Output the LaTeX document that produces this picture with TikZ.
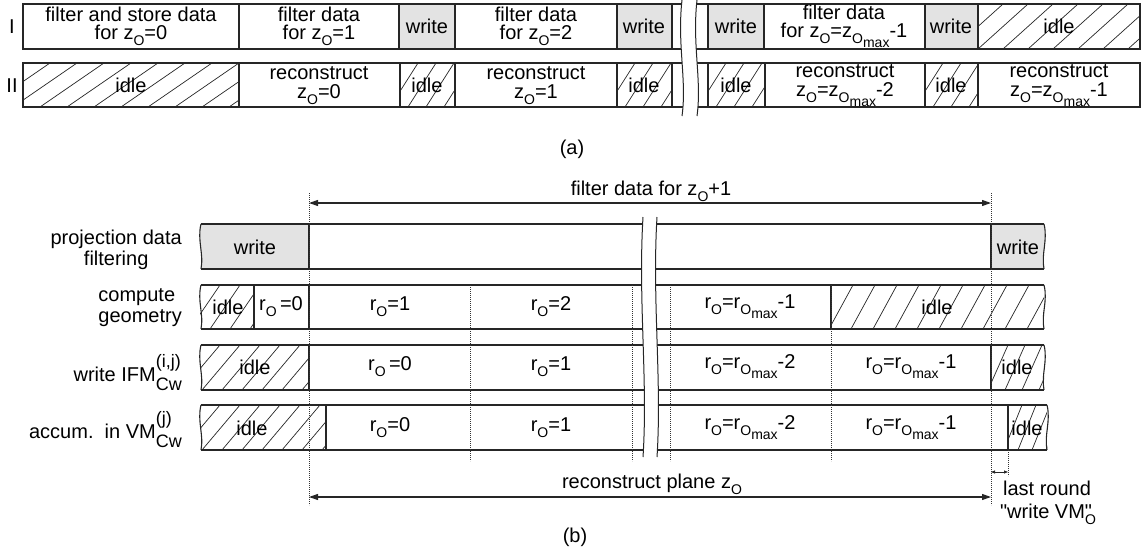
\documentclass[tikz,border=0pt]{standalone}
\usepackage{fontspec}
\setmainfont{Liberation Sans}
\newfontfamily\rawfont{Liberation Sans}[Ligatures=ResetAll]
\usetikzlibrary{arrows.meta}

% subscript O, and O with "max" below it
\newcommand\sO{\raisebox{-6pt}{\fontsize{14}{14}\selectfont O}}
\newcommand\sOmax{\raisebox{-6pt}{\fontsize{14}{14}\selectfont O\raisebox{-4pt}{max}}}
% straight double quote
\newcommand\dq{{\rawfont"}}
% stacked super- and subscript
\newlength\scrw
\newcommand\supsub[2]{%
  \setbox0=\hbox{\fontsize{18}{18}\selectfont #1}%
  \setbox2=\hbox{\fontsize{18}{18}\selectfont #2}%
  \scrw=\wd0 \ifdim\wd2>\scrw \scrw=\wd2 \fi
  \makebox[\scrw][l]{\rlap{\raisebox{14pt}{\box0}}\raisebox{-9pt}{\box2}}}
% hatched cell: x1, ytop, x2, ybottom, spacing, horizontal run of one stroke
\newcommand\hatchcell[6]{%
  \begin{scope}
    \clip (#1,#2) rectangle (#3,#4);
    \foreach \i in {0,...,30}
      \draw[hatchln] ({#1-#6+\i*#5},#4) -- ++(#6,{#2-#4});
  \end{scope}}

\begin{document}
\begin{tikzpicture}[x=1pt,y=-1pt,
  txt/.style={font=\fontsize{20}{18.5}\selectfont, inner sep=0pt, align=center},
  txtb/.style={font=\fontsize{20}{21}\selectfont, inner sep=0pt, align=center},
  box/.style={draw=black!85, line width=1.1pt},
  shade/.style={fill=black!11},
  hatchln/.style={draw=black!85, line width=0.7pt},
  dotl/.style={draw=black!80, line width=0.8pt, dash pattern=on 0.8pt off 1.2pt},
  dim/.style={draw=black!85, line width=1.1pt,
    {Triangle[length=9pt,width=6pt]}-{Triangle[length=9pt,width=6pt]}},
  dimsmall/.style={draw=black!85, line width=0.8pt,
    {Triangle[length=4pt,width=3pt]}-{Triangle[length=4pt,width=3pt]}},
  brk/.style={draw=black!85, line width=1pt},
]
\useasboundingbox (0,0) rectangle (1144,557);

% ================= (a) =================
% row I
\foreach \xa/\xb in {399/455,617/672,708/764,925/978}
  \fill[shade] (\xa,4) rectangle (\xb,49);
\hatchcell{978}{4}{1140}{49}{25}{50}
\foreach \xa/\xb in {23/239,239/399,399/455,455/617,617/672,672/708,708/764,764/925,925/978,978/1140}
  \draw[box] (\xa,4) rectangle (\xb,49);
% row II
\hatchcell{23}{63}{239}{107}{27}{64}
\hatchcell{400}{63}{455}{107}{18}{28}
\hatchcell{617}{63}{672}{107}{18}{28}
\hatchcell{708}{63}{765}{107}{18}{28}
\hatchcell{925}{63}{978}{107}{18}{28}
\foreach \xa/\xb in {23/239,239/400,400/455,455/617,617/672,672/708,708/765,765/925,925/978,978/1140}
  \draw[box] (\xa,63) rectangle (\xb,107);
% time break
\fill[white] (682,0) .. controls (677,45) and (687,80) .. (682,116) -- (697,116)
  .. controls (702,80) and (692,45) .. (697,0) -- cycle;
\draw[brk] (682,0) .. controls (677,45) and (687,80) .. (682,116);
\draw[brk] (697,0) .. controls (692,45) and (702,80) .. (697,116);

\node[txtb] (rI) at (12,27) {I};
\node[txtb] (rII) at (12,86) {II};

\node[txt] (a1) at (131,26.5) {filter and store data\\for z\sO=0};
\node[txt] (a2) at (319,26.5) {filter data\\for z\sO=1};
\node[txt] (a3) at (427,26.5) {write};
\node[txt] (a4) at (536,26.5) {filter data\\for z\sO=2};
\node[txt] (a5) at (644,26.5) {write};
\node[txt] (a6) at (736,26.5) {write};
\node[txt] (a7) at (844,26.5) {filter data\\for z\sO=z\sOmax-1};
\node[txt] (a8) at (951,26.5) {write};
\node[txt] (a9) at (1059,26.5) {idle};

\node[txt] (b1) at (131,85.5) {idle};
\node[txt] (b2) at (319,85.5) {reconstruct\\z\sO=0};
\node[txt] (b3) at (427,85.5) {idle};
\node[txt] (b4) at (536,85.5) {reconstruct\\z\sO=1};
\node[txt] (b5) at (644,85.5) {idle};
\node[txt] (b6) at (736,85.5) {idle};
\node[txt] (b7) at (845,85.5) {reconstruct\\z\sO=z\sOmax-2};
\node[txt] (b8) at (951,85.5) {idle};
\node[txt] (b9) at (1059,85.5) {reconstruct\\z\sO=z\sOmax-1};

\node[txtb] (capa) at (572,149) {(a)};

% ================= (b) =================
% shaded write phases
\fill[shade] (201,224) .. controls (197,240) and (204,254) .. (201,269) -- (309,269) -- (309,224) -- cycle;
\fill[shade] (991,224) -- (1044,224) .. controls (1048,240) and (1041,254) .. (1044,269) -- (991,269) -- cycle;
% idle phases
\hatchcell{200}{285}{254}{329}{20}{30}
\hatchcell{831}{285}{1044}{329}{22}{24}
\hatchcell{200}{345}{309}{390}{20}{38}
\hatchcell{991}{345}{1044}{390}{17}{20}
\hatchcell{200}{405}{326}{450}{20}{38}
\hatchcell{1008}{405}{1047}{450}{14}{18}
% lane outlines with torn ends
\foreach \yt/\yb/\xr in {224/269/1044, 285/329/1044, 345/390/1044, 405/450/1047} {
  \draw[box] (201,\yt) -- (\xr,\yt);
  \draw[box] (201,\yb) -- (\xr,\yb);
  \draw[box] (201,\yt) .. controls (197,{\yt+16}) and (204,{\yb-15}) .. (201,\yb);
  \draw[box] (\xr,\yt) .. controls ({\xr+4},{\yt+16}) and ({\xr-3},{\yb-15}) .. (\xr,\yb);
}
% solid phase boundaries
\foreach \x in {309,991} \draw[box] (\x,224) -- (\x,269);
\foreach \x in {254,309,831} \draw[box] (\x,285) -- (\x,329);
\foreach \x in {309,991} \draw[box] (\x,345) -- (\x,390);
\foreach \x in {326,1008} \draw[box] (\x,405) -- (\x,450);
% time break
\fill[white] (643,217) .. controls (638,300) and (648,380) .. (643,457) -- (657,457)
  .. controls (662,380) and (652,300) .. (657,217) -- cycle;
\draw[brk] (643,217) .. controls (638,300) and (648,380) .. (643,457);
\draw[brk] (657,217) .. controls (652,300) and (662,380) .. (657,457);

% dotted round boundaries
\coordinate (s1) at (309,193);  \coordinate (e1) at (309,505);
\coordinate (s2) at (991,193);  \coordinate (e2) at (991,505);
\draw[dotl] (s1) -- (e1);
\draw[dotl] (s2) -- (e2);
\foreach \x [count=\k] in {470,632,670,831} {
  \coordinate (ds\k) at (\x,285);
  \coordinate (de\k) at (\x,461);
  \draw[dotl] (ds\k) -- (de\k);
}
\coordinate (vs) at (1008,450); \coordinate (ve) at (1008,476);
\draw[dotl] (vs) -- (ve);

% dimension arrows
\coordinate (fa) at (309,203); \coordinate (fb) at (991,203);
\draw[dim] (fa) -- (fb);
\coordinate (ra) at (309,497); \coordinate (rb) at (991,497);
\draw[dim] (ra) -- (rb);
\coordinate (la) at (991,472); \coordinate (lb) at (1008,472);
\draw[dimsmall] (la) -- (lb);

\node[txtb, anchor=base] (ftop) at (651,195) {filter data for z\sO+1};
\node[txtb, anchor=base] (fbot) at (652,488) {reconstruct plane z\sO};
\node[txtb, anchor=base] (lr1) at (1047,495) {last round};
\node[txtb, anchor=base] (lr2) at (1048,518) {\dq write VM\rlap{\dq}\sO};

% lane labels
\node[txtb, anchor=east] (l1) at (182,250) {projection data\\filtering};
\node[txtb, anchor=east, align=left] (l2) at (182,308) {compute\\geometry};
\node[txtb, anchor=base east] (l3) at (182,381) {write IFM\supsub{(i,j)}{Cw}};
\node[txtb, anchor=base east] (l4) at (182,438) {accum.\ \ in VM\supsub{(j)}{Cw}};

% phase labels
\node[txtb] (p11) at (255,247) {write};
\node[txtb] (p12) at (1018,247) {write};

\node[txtb] (p21) at (228,307) {idle};
\node[txtb] (p22) at (281,307) {r\sO\,=0};
\node[txtb] (p23) at (390,307) {r\sO=1};
\node[txtb] (p24) at (551,307) {r\sO=2};
\node[txtb] (p25) at (750,307) {r\sO=r\sOmax-1};
\node[txtb] (p26) at (937,307) {idle};

\node[txtb] (p31) at (255,367) {idle};
\node[txtb] (p32) at (390,367) {r\sO\,=0};
\node[txtb] (p33) at (551,367) {r\sO=1};
\node[txtb] (p34) at (750,367) {r\sO=r\sOmax-2};
\node[txtb] (p35) at (911,367) {r\sO=r\sOmax-1};
\node[txtb] (p36) at (1017,367) {idle};

\node[txtb] (p41) at (252,428) {idle};
\node[txtb] (p42) at (390,428) {r\sO=0};
\node[txtb] (p43) at (551,428) {r\sO=1};
\node[txtb] (p44) at (750,428) {r\sO=r\sOmax-2};
\node[txtb] (p45) at (911,428) {r\sO=r\sOmax-1};
\node[txtb] (p46) at (1027,428) {idle};

\node[txtb] (capb) at (575,537) {(b)};
\end{tikzpicture}
\end{document}
